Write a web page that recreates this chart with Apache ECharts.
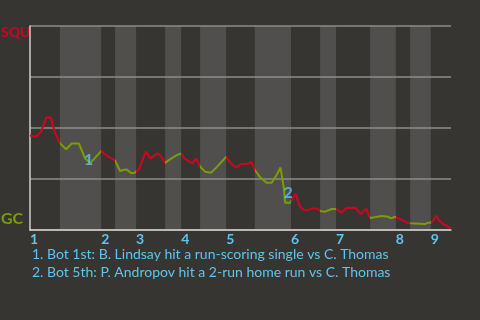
<!DOCTYPE html>
<html>
<head>
<meta charset="utf-8">
<script src="https://cdn.jsdelivr.net/npm/echarts@6/dist/echarts.min.js"></script>
<style>
html,body{margin:0;padding:0;background:#373532;}
#chart{width:480px;height:320px;}
</style>
</head>
<body>
<div id="chart"></div>
<script>
// Play progress (x) and SQU win probability (y, 1 = SQU, 0 = GC)
const playIndex = [
  0, 1.4, 2.6, 3.9, 4.9, 5.9, 7.1,
  8.6, 9.9, 11.6, 13.1, 14.3, 16.9,
  18.2, 19.0, 20.2,
  21.4, 22.1, 22.9, 24.1, 24.9, 25.2,
  25.8, 27.5, 28.6, 30.2, 31.1, 32.1,
  32.8, 34.0, 35.0, 35.9,
  36.7, 37.8, 38.5, 39.5, 40.4,
  41.6, 43.0, 44.3, 46.6,
  47.6, 49.0, 50.2, 51.8, 52.6, 53.4,
  54.6, 56.2, 57.4, 58.6, 59.5, 60.3, 60.6, 61.8, 62.0,
  63.1, 64.1, 64.8, 65.8, 66.9, 68.1, 68.9,
  70.1, 71.1, 71.7, 72.7,
  74.0, 75.2, 77.3, 78.6, 79.9, 80.5, 80.8,
  82.2, 83.5, 85.0, 85.8, 86.6, 86.9,
  88.2, 89.4, 90.3,
  90.6, 93.8, 94.6, 95.2,
  95.7, 96.5, 97.3, 98.3, 99.3, 100
];
const squWinProb = [
  0.463, 0.457, 0.480, 0.552, 0.552, 0.480, 0.426,
  0.396, 0.424, 0.424, 0.350, 0.328, 0.387,
  0.365, 0.355, 0.340,
  0.289, 0.294, 0.297, 0.278, 0.281, 0.284,
  0.294, 0.384, 0.351, 0.375, 0.363, 0.328,
  0.340, 0.356, 0.368, 0.375,
  0.351, 0.336, 0.326, 0.350, 0.310,
  0.286, 0.281, 0.307, 0.359,
  0.328, 0.306, 0.324, 0.324, 0.335, 0.294,
  0.260, 0.232, 0.232, 0.270, 0.306, 0.206, 0.134, 0.134, 0.137,
  0.176, 0.115, 0.101, 0.096, 0.106, 0.106, 0.093,
  0.090, 0.098, 0.103, 0.103,
  0.085, 0.108, 0.109, 0.078, 0.105, 0.069, 0.059,
  0.064, 0.069, 0.065, 0.057, 0.065, 0.070,
  0.051, 0.037, 0.033,
  0.029, 0.029, 0.036, 0.036,
  0.044, 0.069, 0.044, 0.027, 0.016, 0.007
];
// Half-inning boundaries: [top1 start, bot1 start, top2 start, ...]
const halfBoundaries = [0, 7.1, 16.9, 20.2, 25.2, 32.1, 35.9, 40.4, 46.6, 53.4, 62.0, 68.9, 72.7, 80.8, 86.9, 90.3, 95.2, 100];
const inningStarts = [0, 16.9, 25.2, 35.9, 46.6, 62.0, 72.7, 86.9, 95.2];
const inningLabels = ['1', '2', '3', '4', '5', '6', '7', '8', '9'];
const noteMarks = ['1', '2'];
const noteX = [13.9, 61.3];
const noteY = [0.343, 0.181];
const noteTexts = [
  '1. Bot 1st: B. Lindsay hit a run-scoring single vs C. Thomas',
  '2. Bot 5th: P. Andropov hit a 2-run home run vs C. Thomas'
];
const teamTop = 'SQU';
const teamBottom = 'GC';

const RED = '#d3021e';
const GREEN = '#7c9c06';
const BLUE = '#5ec4f0';
const FONT = 'Lato, "DejaVu Sans", sans-serif';

const pieces = [];
const bands = [];
for (let i = 0; i < halfBoundaries.length - 1; i++) {
  const p = { gte: halfBoundaries[i], color: i % 2 === 0 ? RED : GREEN };
  if (i === halfBoundaries.length - 2) p.lte = halfBoundaries[i + 1]; else p.lt = halfBoundaries[i + 1];
  pieces.push(p);
  if (i % 2 === 1) bands.push([{ xAxis: halfBoundaries[i] }, { xAxis: halfBoundaries[i + 1] }]);
}

const chart = echarts.init(document.getElementById('chart'), null, { renderer: 'canvas' });
chart.setOption({
  backgroundColor: '#373532',
  animation: false,
  grid: { left: 30, right: 29, top: 26, bottom: 90 },
  xAxis: {
    type: 'value', min: 0, max: 100, z: 2,
    splitLine: { show: false },
    axisTick: { show: false },
    axisLine: { show: true, lineStyle: { color: '#cfcfcf', width: 1.5 } },
    axisLabel: {
      customValues: inningStarts,
      formatter: function (v) {
        let k = 0, best = 1e9;
        inningStarts.forEach(function (s, i) { if (Math.abs(s - v) < best) { best = Math.abs(s - v); k = i; } });
        return inningLabels[k];
      },
      align: 'left', margin: 2,
      color: BLUE, fontWeight: 'bold', fontSize: 14, fontFamily: FONT
    }
  },
  yAxis: {
    type: 'value', min: 0, max: 1, interval: 0.25, z: 2,
    axisLabel: { show: false },
    axisTick: { show: false },
    axisLine: { show: true, lineStyle: { color: '#cfcfcf', width: 1.5 } },
    splitLine: { show: true, lineStyle: { color: '#8c8c8a', width: 1.5 } }
  },
  visualMap: {
    show: false, type: 'piecewise', dimension: 0, seriesIndex: 1, pieces: pieces
  },
  series: [
    {
      type: 'line', data: [], z: 1, silent: true,
      markArea: { silent: true, itemStyle: { color: '#504f4d' }, data: bands }
    },
    {
      type: 'line', z: 3, showSymbol: false, silent: true,
      lineStyle: { width: 2 },
      data: playIndex.map(function (x, i) { return [x, squWinProb[i]]; })
    },
    {
      type: 'scatter', z: 4, silent: true, symbolSize: 1,
      itemStyle: { color: 'rgba(0,0,0,0)' },
      label: {
        show: true, position: 'inside',
        formatter: function (p) { return noteMarks[p.dataIndex]; },
        color: BLUE, fontWeight: 'bold', fontSize: 16, fontFamily: FONT
      },
      data: noteX.map(function (x, i) { return [x, noteY[i]]; })
    }
  ],
  graphic: [
    { type: 'text', left: 1, top: 25, style: { text: teamTop, fill: RED, font: 'bold 14px ' + FONT } },
    { type: 'text', left: 1, top: 211, style: { text: teamBottom, fill: GREEN, font: 'bold 16px ' + FONT } },
    { type: 'text', left: 32, top: 247, style: { text: noteTexts[0], fill: BLUE, font: '14px ' + FONT } },
    { type: 'text', left: 32, top: 265, style: { text: noteTexts[1], fill: BLUE, font: '14px ' + FONT } }
  ]
});
</script>
</body>
</html>
